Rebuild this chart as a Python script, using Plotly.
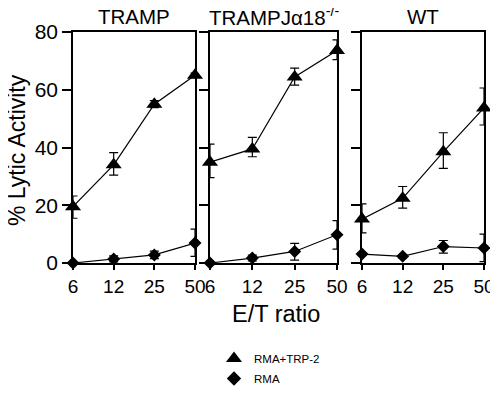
import plotly.graph_objects as go

ratios = ["6", "12", "25", "50"]
panel_titles = ["TRAMP", "TRAMPJα18<sup>-/-</sup>", "WT"]

tramp_trp2 = [19.5, 34.0, 55.0, 65.0]
tramp_trp2_up = [3.7, 4.2, 1.2, 0.8]
tramp_trp2_dn = [4.0, 3.6, 1.2, 0.8]
tramp_rma = [0.0, 1.4, 2.8, 6.9]
tramp_rma_up = [0.0, 1.1, 1.3, 4.8]
tramp_rma_dn = [0.0, 1.0, 1.3, 4.6]

ja18_trp2 = [34.9, 39.5, 64.4, 73.6]
ja18_trp2_up = [6.3, 4.0, 3.1, 3.7]
ja18_trp2_dn = [5.3, 2.7, 2.8, 3.2]
ja18_rma = [0.0, 1.7, 4.0, 9.8]
ja18_rma_up = [0.0, 1.0, 2.8, 4.9]
ja18_rma_dn = [0.0, 1.0, 3.0, 5.0]

wt_trp2 = [15.2, 22.4, 38.5, 53.7]
wt_trp2_up = [5.3, 4.1, 6.6, 6.9]
wt_trp2_dn = [4.8, 3.4, 5.7, 5.9]
wt_rma = [3.1, 2.3, 5.7, 5.2]
wt_rma_up = [0.5, 0.5, 2.1, 4.8]
wt_rma_dn = [0.5, 0.5, 2.3, 4.7]

panels = [
    (tramp_trp2, tramp_trp2_up, tramp_trp2_dn, tramp_rma, tramp_rma_up, tramp_rma_dn),
    (ja18_trp2, ja18_trp2_up, ja18_trp2_dn, ja18_rma, ja18_rma_up, ja18_rma_dn),
    (wt_trp2, wt_trp2_up, wt_trp2_dn, wt_rma, wt_rma_up, wt_rma_dn),
]

# page body has an 8px margin; figure sized to fit the window
OFF = 8
W, H = 498 - OFF, 393 - OFF


def px(x):
    return (x - OFF) / W


def py(y):
    return 1 - (y - OFF) / H


xdomains = [(73, 195), (210, 337), (362, 484)]
ytop, ybot = 32, 263
FONT = "Liberation Sans, Arial, sans-serif"

fig = go.Figure()
layout = dict(
    template="none",
    width=W, height=H,
    margin=dict(l=0, r=0, t=0, b=0, pad=0),
    paper_bgcolor="white", plot_bgcolor="white",
    showlegend=True,
    font=dict(family=FONT, color="black"),
)
annotations = []
for i, (tri, tup, tdn, dia, dup, ddn) in enumerate(panels):
    n = "" if i == 0 else str(i + 1)
    xa, ya = "x" + n, "y" + n
    fig.add_trace(go.Scatter(
        x=ratios, y=tri, xaxis=xa, yaxis=ya, mode="lines+markers",
        line=dict(color="black", width=1.2),
        marker=dict(symbol="triangle-up", size=14, color="black"),
        error_y=dict(type="data", array=tup, arrayminus=tdn, color="black", thickness=1.2, width=4.5),
        cliponaxis=False, showlegend=False,
    ))
    fig.add_trace(go.Scatter(
        x=ratios, y=dia, xaxis=xa, yaxis=ya, mode="lines+markers",
        line=dict(color="black", width=1.2),
        marker=dict(symbol="diamond", size=10, color="black"),
        error_y=dict(type="data", array=dup, arrayminus=ddn, color="black", thickness=1.2, width=4.5),
        cliponaxis=False, showlegend=False,
    ))
    x0, x1 = xdomains[i]
    layout["xaxis" + n] = dict(
        domain=[px(x0), px(x1)], anchor=ya, type="category", range=[0, 3],
        automargin=False,
        showline=True, linecolor="black", linewidth=1.5, mirror=True,
        ticks="outside", ticklen=5, tickwidth=1.5, tickcolor="black",
        tickfont=dict(size=19, family=FONT, color="black"), showgrid=False, zeroline=False,
    )
    layout["yaxis" + n] = dict(
        domain=[py(ybot), py(ytop)], anchor=xa, range=[0, 80],
        automargin=False,
        tickvals=[0, 20, 40, 60, 80], showticklabels=(i == 0),
        showline=True, linecolor="black", linewidth=1.5, mirror=True,
        ticks="outside", ticklen=9, tickwidth=1.5, tickcolor="black",
        tickfont=dict(size=21, family=FONT, color="black"), showgrid=False, zeroline=False,
    )
    annotations.append(dict(
        text=panel_titles[i], x=px((x0 + x1) / 2), y=py(16), xref="paper", yref="paper",
        showarrow=False, font=dict(size=20.5, family=FONT, color="black"),
        xanchor="center", yanchor="middle",
    ))

annotations.append(dict(text="E/T ratio", x=px(276), y=py(314), xref="paper", yref="paper",
                        showarrow=False, xanchor="center", yanchor="middle",
                        font=dict(size=23.5, family=FONT, color="black")))
annotations.append(dict(text="% Lytic Activity", x=px(17), y=py(150), xref="paper", yref="paper",
                        showarrow=False, textangle=-90, xanchor="center", yanchor="middle",
                        font=dict(size=23, family=FONT, color="black")))

fig.add_trace(go.Scatter(x=[None], y=[None], mode="markers", name="RMA+TRP-2", legendgroup="a",
                         marker=dict(symbol="triangle-up", size=14, color="black")))
fig.add_trace(go.Scatter(x=[None], y=[None], mode="markers", name="RMA", legendgroup="b",
                         marker=dict(symbol="diamond", size=11, color="black")))

layout["annotations"] = annotations
layout["legend"] = dict(x=px(214), y=py(344), xanchor="left", yanchor="top",
                        font=dict(size=11.5, family=FONT, color="black"),
                        bgcolor="rgba(0,0,0,0)", tracegroupgap=1, traceorder="grouped")
fig.update_layout(**layout)
fig.write_html("out.html")
